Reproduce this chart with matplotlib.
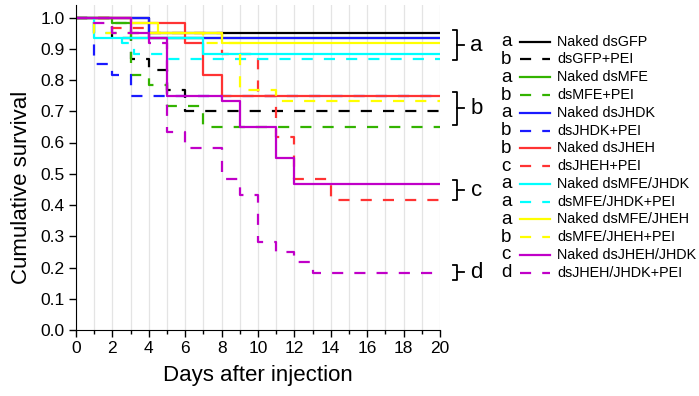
import numpy as np
import matplotlib
matplotlib.use("Agg")
import matplotlib.pyplot as plt
from matplotlib.lines import Line2D

plt.rcParams['font.family'] = ['Liberation Sans', 'DejaVu Sans']

# survival curves (days, cumulative survival)
names = ["Naked dsGFP", "dsGFP+PEI", "Naked dsMFE", "dsMFE+PEI",
         "Naked dsJHDK", "dsJHDK+PEI", "Naked dsJHEH", "dsJHEH+PEI",
         "Naked dsMFE/JHDK", "dsMFE/JHDK+PEI", "Naked dsMFE/JHEH",
         "dsMFE/JHEH+PEI", "Naked dsJHEH/JHDK", "dsJHEH/JHDK+PEI"]
letters = ["a", "b", "a", "b", "a", "b", "b", "c", "a", "a", "a", "b", "c", "d"]

gfp_t = [0, 4, 20]
gfp_s = [1.0, 0.95, 0.95]
gfp_pei_t = [0, 2, 3, 4, 5, 6, 20]
gfp_pei_s = [1.0, 0.933, 0.867, 0.833, 0.767, 0.70, 0.70]
mfe_t = [0, 2, 3, 20]
mfe_s = [1.0, 0.983, 0.933, 0.933]
mfe_pei_t = [0, 2, 3, 4, 5, 7, 20]
mfe_pei_s = [1.0, 0.983, 0.817, 0.783, 0.717, 0.65, 0.65]
jhdk_t = [0, 4, 20]
jhdk_s = [1.0, 0.933, 0.933]
jhdk_pei_t = [0, 1, 2, 3, 20]
jhdk_pei_s = [1.0, 0.85, 0.817, 0.75, 0.75]
jheh_t = [0, 3, 6, 7, 8, 20]
jheh_s = [1.0, 0.983, 0.917, 0.817, 0.75, 0.75]
jheh_pei_t = [0, 2, 4, 8, 10, 11, 12, 14, 20]
jheh_pei_s = [1.0, 0.967, 0.95, 0.883, 0.75, 0.617, 0.483, 0.417, 0.417]
mfe_jhdk_t = [0, 1, 7, 20]
mfe_jhdk_s = [1.0, 0.933, 0.883, 0.883]
mfe_jhdk_pei_t = [0, 1, 2.5, 3.2, 5, 20]
mfe_jhdk_pei_s = [1.0, 0.95, 0.917, 0.883, 0.867, 0.867]
mfe_jheh_t = [0, 3, 4.5, 8, 20]
mfe_jheh_s = [1.0, 0.983, 0.95, 0.917, 0.917]
mfe_jheh_pei_t = [0, 1, 7, 9, 11, 20]
mfe_jheh_pei_s = [1.0, 0.95, 0.917, 0.767, 0.733, 0.733]
jheh_jhdk_t = [0, 3, 4, 5, 8, 9, 11, 12, 20]
jheh_jhdk_s = [1.0, 0.95, 0.933, 0.75, 0.733, 0.65, 0.55, 0.467, 0.467]
jheh_jhdk_pei_t = [0, 1, 2, 4, 5, 6, 8, 9, 10, 11, 12, 13, 20]
jheh_jhdk_pei_s = [1.0, 0.983, 0.95, 0.917, 0.633, 0.583, 0.483, 0.433,
                   0.283, 0.25, 0.217, 0.183, 0.183]

times = [gfp_t, gfp_pei_t, mfe_t, mfe_pei_t, jhdk_t, jhdk_pei_t, jheh_t,
         jheh_pei_t, mfe_jhdk_t, mfe_jhdk_pei_t, mfe_jheh_t, mfe_jheh_pei_t,
         jheh_jhdk_t, jheh_jhdk_pei_t]
surv = [gfp_s, gfp_pei_s, mfe_s, mfe_pei_s, jhdk_s, jhdk_pei_s, jheh_s,
        jheh_pei_s, mfe_jhdk_s, mfe_jhdk_pei_s, mfe_jheh_s, mfe_jheh_pei_s,
        jheh_jhdk_s, jheh_jhdk_pei_s]

base_colors = ["#000000", "#33b300", "#1a1aff", "#ff3333",
               "#00ffff", "#ffff00", "#c000c8"]
colors = [c for c in base_colors for _ in range(2)]
dash = (0, (5, 5))
styles = ["-", dash] * 7

# brackets: (top, bottom, letter)
brackets = [(0.959, 0.864, "a"), (0.762, 0.656, "b"),
            (0.48, 0.416, "c"), (0.209, 0.161, "d")]

W, H = 699, 396
fig = plt.figure(figsize=(W / 100, H / 100), dpi=100)
ax = fig.add_axes([76 / W, 1 - 330 / H, (440 - 76) / W, 325 / H])

for t, s, c, ls in zip(times, surv, colors, styles):
    ax.step(t, s, where="post", color=c, lw=1.6, ls=ls)

ax.set_xlim(0, 20)
ax.set_ylim(0, 1.04)
ax.set_xticks(range(0, 21, 2))
ax.set_xticks(range(1, 20, 2), minor=True)
yt = np.round(np.arange(0, 1.01, 0.1), 1)
ax.set_yticks(yt)
ax.set_yticklabels([f"{v:.1f}" for v in yt])
ax.grid(axis="x", which="both", color="#e4e4e4", lw=0.9)
ax.set_axisbelow(True)
for sp in ["top", "right"]:
    ax.spines[sp].set_visible(False)
ax.tick_params(which="major", direction="out", length=5, width=1,
               labelsize=12.5, pad=3)
ax.tick_params(which="minor", direction="out", length=3, width=1)

for top, bot, lab in brackets:
    ax.plot([20.72, 20.92, 20.92, 20.72], [top, top, bot, bot],
            color="black", lw=1.3, clip_on=False)
    mid = (top + bot) / 2
    ax.plot([20.92, 21.3], [mid, mid], color="black", lw=1.3, clip_on=False)
    ax.text(22.0, mid, lab, fontsize=16, ha="center", va="center")

fig.text(22 / W, 1 - 187 / H, "Cumulative survival", rotation=90,
         fontsize=16, ha="center", va="center")
fig.text(258 / W, 1 - 376 / H, "Days after injection", fontsize=16,
         ha="center", va="center")

# legend drawn by hand: letter, line sample, label
for i, (nm, lt, c, ls) in enumerate(zip(names, letters, colors, styles)):
    y = 1 - (41.7 + i * 17.77) / H
    fig.text(506 / W, y, lt, fontsize=13.5, ha="center", va="center")
    fig.add_artist(Line2D([520 / W, 550 / W], [y, y], color=c, lw=1.6,
                          ls=ls, transform=fig.transFigure))
    fig.text(557 / W, y, nm, fontsize=10.4, ha="left", va="center")

fig.savefig("out.png", dpi=100)
